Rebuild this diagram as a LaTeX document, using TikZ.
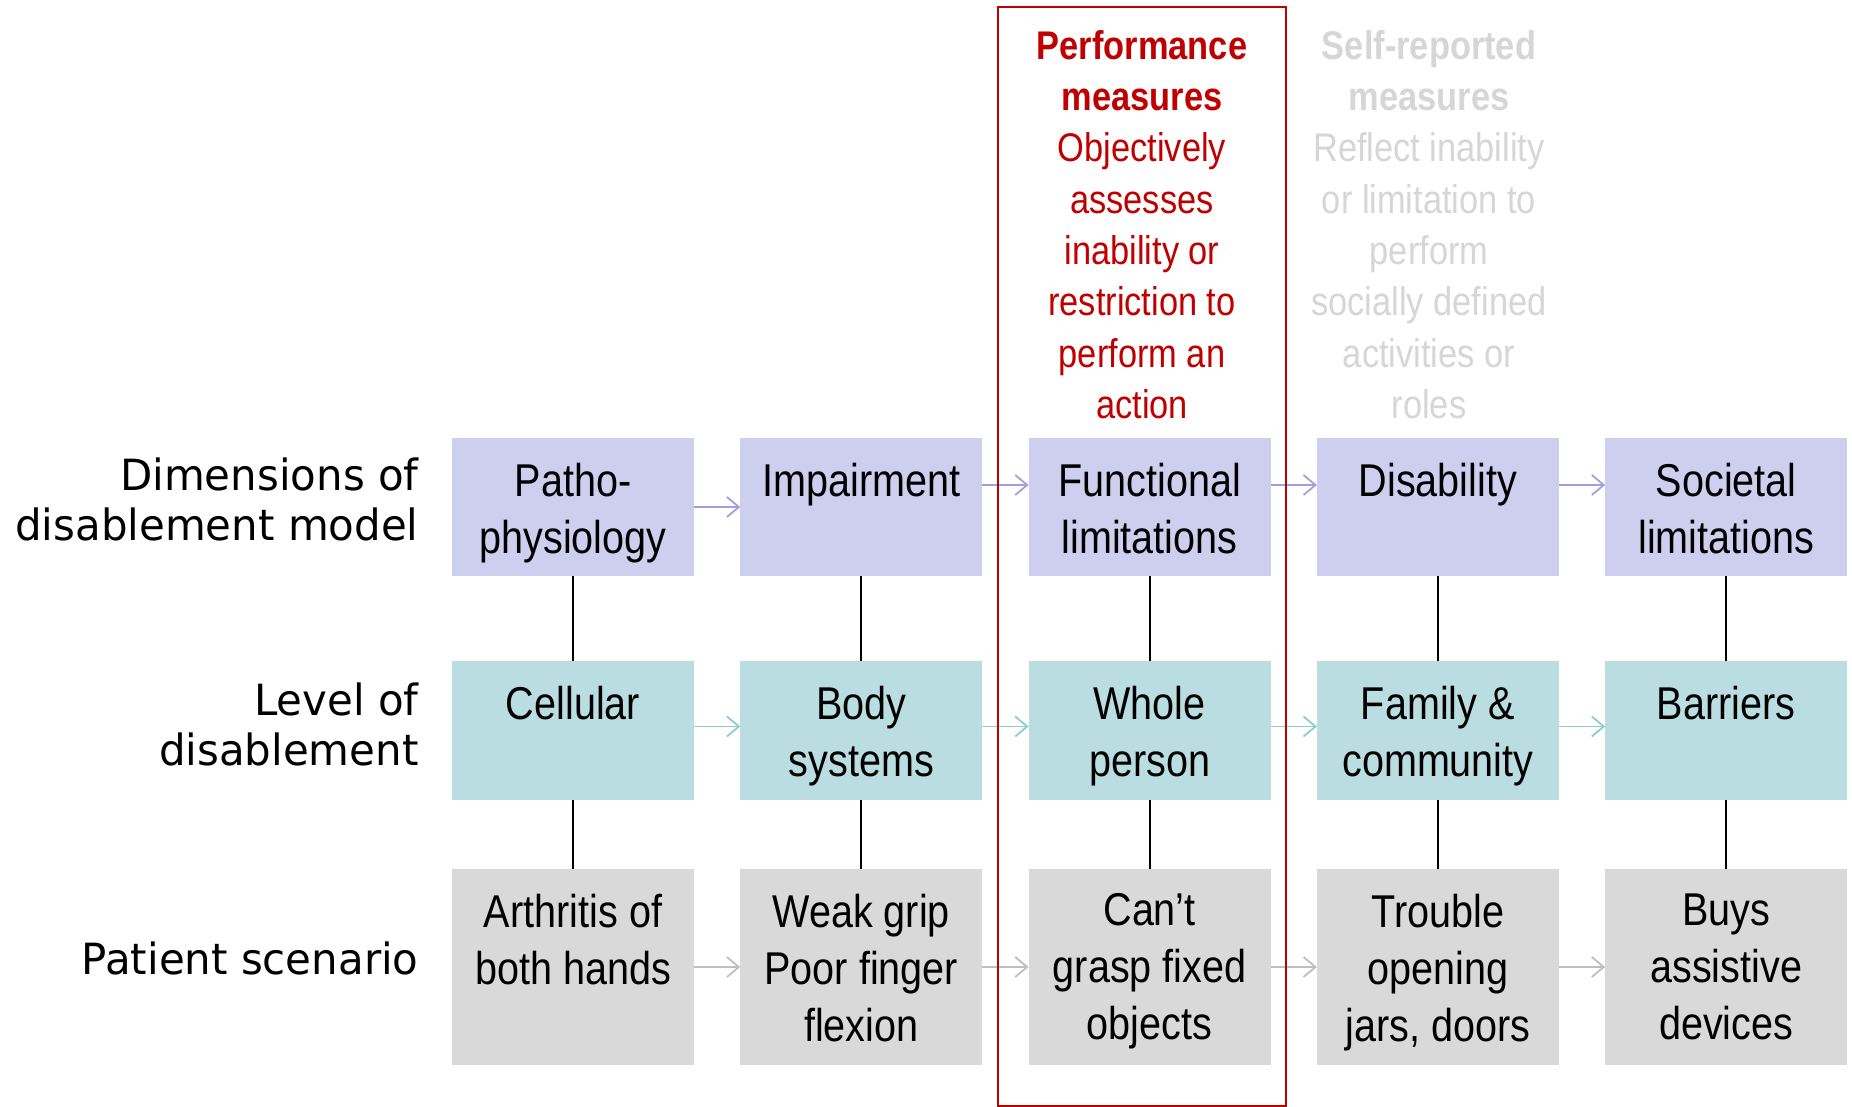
\documentclass[tikz,border=0pt]{standalone}
\usepackage{fontspec}
\usetikzlibrary{arrows.meta}
\newfontfamily\cellfont[FakeStretch=0.86]{Liberation Sans}
\newfontfamily\rowfont[FakeStretch=0.975]{DejaVu Sans}
\definecolor{dimfill}{RGB}{206,206,238}
\definecolor{dimarrowc}{RGB}{160,160,224}
\definecolor{levfill}{RGB}{185,221,224}
\definecolor{levarrowc}{RGB}{140,205,208}
\definecolor{scenfill}{RGB}{217,217,217}
\definecolor{scenarrowc}{RGB}{191,191,191}
\definecolor{perfred}{RGB}{192,0,0}
\definecolor{selfgray}{RGB}{214,214,214}
\begin{document}
\begin{tikzpicture}[x=0.5pt,y=-0.5pt,
  cell/.style={minimum width=121pt, inner sep=0pt, outer sep=0pt},
  dimcell/.style={cell, fill=dimfill, minimum height=69pt},
  levcell/.style={cell, fill=levfill, minimum height=69.5pt},
  scencell/.style={cell, fill=scenfill, minimum height=98pt},
  celltext/.style={anchor=north, inner sep=0pt, align=center,
    font=\cellfont\fontsize{23}{28.5}\selectfont},
  headtext/.style={anchor=north, inner sep=0pt, align=center,
    font=\cellfont\fontsize{20}{25.65}\selectfont},
  rowlabel/.style={anchor=north east, inner sep=0pt, align=right,
    font=\rowfont\fontsize{21.5}{25}\selectfont},
  flow/.style={line width=0.9pt, -{Straight Barb[length=6pt,width=10pt,line width=0.9pt]}},
  dimarrow/.style={flow, draw=dimarrowc},
  levarrow/.style={flow, draw=levarrowc},
  scenarrow/.style={flow, draw=scenarrowc},
  link/.style={line width=1pt, draw=black}
]
\fill[white] (0,0) rectangle (1852,1107);
\useasboundingbox (0,0) rectangle (1852,1107);

% row labels
\node[rowlabel] (labdim) at (419,457) {Dimensions of\\disablement model};
\node[rowlabel] (lablev) at (419,682) {Level of\\disablement};
\node[rowlabel] (labscen) at (419,941) {Patient scenario};

% dimensions of disablement
\node[dimcell] (d1) at (573,507) {};
\node[dimcell] (d2) at (861.3,507) {};
\node[dimcell] (d3) at (1149.6,507) {};
\node[dimcell] (d4) at (1437.9,507) {};
\node[dimcell] (d5) at (1726.2,507) {};
% level of disablement
\node[levcell] (l1) at (573,730.5) {};
\node[levcell] (l2) at (861.3,730.5) {};
\node[levcell] (l3) at (1149.6,730.5) {};
\node[levcell] (l4) at (1437.9,730.5) {};
\node[levcell] (l5) at (1726.2,730.5) {};
% patient scenario
\node[scencell] (s1) at (573,967) {};
\node[scencell] (s2) at (861.3,967) {};
\node[scencell] (s3) at (1149.6,967) {};
\node[scencell] (s4) at (1437.9,967) {};
\node[scencell] (s5) at (1726.2,967) {};

% cell texts
\node[celltext] (d1t) at ([yshift=-12.2pt]d1.north) {Patho-\\physiology};
\node[celltext] (d2t) at ([yshift=-12.2pt]d2.north) {Impairment};
\node[celltext] (d3t) at ([yshift=-12.2pt]d3.north) {Functional\\limitations};
\node[celltext] (d4t) at ([yshift=-12.2pt]d4.north) {Disability};
\node[celltext] (d5t) at ([yshift=-12.2pt]d5.north) {Societal\\limitations};
\node[celltext] (l1t) at ([yshift=-12.2pt]l1.north) {Cellular};
\node[celltext] (l2t) at ([yshift=-12.2pt]l2.north) {Body\\systems};
\node[celltext] (l3t) at ([yshift=-12.2pt]l3.north) {Whole\\person};
\node[celltext] (l4t) at ([yshift=-12.2pt]l4.north) {Family \&\\community};
\node[celltext] (l5t) at ([yshift=-12.2pt]l5.north) {Barriers};
\node[celltext] (s1t) at ([yshift=-12.2pt]s1.north) {Arthritis of\\both hands};
\node[celltext] (s2t) at ([yshift=-12.2pt]s2.north) {Weak grip\\Poor finger\\flexion};
\node[celltext] (s3t) at ([yshift=-12.2pt]s3.north) {Can’t\\grasp fixed\\objects};
\node[celltext] (s4t) at ([yshift=-12.2pt]s4.north) {Trouble\\opening\\jars, doors};
\node[celltext] (s5t) at ([yshift=-12.2pt]s5.north) {Buys\\assistive\\devices};

% column headings
\node[headtext, text=perfred] (perfhead) at (1142,30)
  {\textbf{Performance}\\\textbf{measures}\\Objectively\\assesses\\inability or\\restriction to\\perform an\\action};
\node[headtext, text=selfgray] (selfhead) at (1429,30)
  {\textbf{Self-reported}\\\textbf{measures}\\Reflect inability\\or limitation to\\perform\\socially defined\\activities or\\roles};

% vertical links
\foreach \i in {1,...,5} {
  \draw[link] (d\i.south) -- (l\i.north);
  \draw[link] (l\i.south) -- (s\i.north);
}

% horizontal flow arrows
\draw[dimarrow] (d1.east) -- (d2.west);
\draw[dimarrow] ([yshift=11pt]d2.east) -- ([yshift=11pt]d3.west);
\draw[dimarrow] ([yshift=11pt]d3.east) -- ([yshift=11pt]d4.west);
\draw[dimarrow] ([yshift=11pt]d4.east) -- ([yshift=11pt]d5.west);
\foreach \a/\b in {1/2,2/3,3/4,4/5} {
  \draw[levarrow] ([yshift=2pt]l\a.east) -- ([yshift=2pt]l\b.west);
  \draw[scenarrow] (s\a.east) -- (s\b.west);
}

% performance measures frame
\draw[perfred, line width=1.1pt] (998,7) rectangle (1286,1106);
\end{tikzpicture}
\end{document}
